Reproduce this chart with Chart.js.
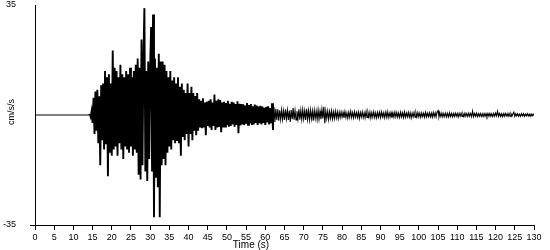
<!DOCTYPE html>
<html><head><meta charset="utf-8">
<script src="https://cdn.jsdelivr.net/npm/chart.js@4/dist/chart.umd.min.js"></script>
<style>html,body{margin:0;padding:0;background:#fff}canvas{display:block}</style>
</head><body>
<canvas id="c" width="550" height="250"></canvas>
<script>
// quiet pre-event record
const flatTimes = [0, 14.0];
const flatValues = [0, 0];
// acceleration record, sampled every 0.25 s starting at 14.25 s (cm/s/s)
const recordStart = 14.25;
const sampleStep = 0.25;
const accel = [
  0.3, -0.6, 1.2, -2.5, 5.5, -6, 7.5, -5, 8, -9, 6, -16, 9.5, -8, 10, -11, 14, -9, 12, -19.5,
  13, -12, 10, -13, 20.5, -11, 15, -10, 14, -13, 12, -9, 16, -11, 13, -14, 12, -10, 14, -11,
  13, -12, 15, -10, 12, -13, 14, -11, 16, -12, 18, -19, 15, -20.5, 24, -16, 18, 34, -18, 14,
  -21, 17, -14, 15, 28, -18, 32, -32.5, 18, -20, 15, -23, 19.5, -32.5, 17, -16, 17, -14, 16, -16,
  14, -12, 12, -10, 14, -11, 11, -8, 12, -9, 10, -8, 12, -9, 9, -13, 10, -7, 8, -8,
  7, -6, 10, -10, 7, -6, 9, -8, 7, -5, 6, -6.4, 7, -5, 5, -4, 4.5, -4.2, 5.3, -4,
  4, -6.4, 4.2, -3.5, 4.5, -4, 5, -4.8, 4, -3.5, 6.5, -4.8, 4.5, -4, 5, -3.8, 4.8, -5.5, 4, -4,
  4.2, -3.7, 3.8, -3.2, 4.5, -3.7, 3.6, -3.5, 4.2, -3, 4, -3.7, 3.5, -3.2, 4.4, -5.8, 3.6, -3.3, 3.5, -3,
  3.4, -3.2, 3, -2.8, 3.8, -3.1, 3.2, -2.6, 3.5, -3.2, 2.8, -3, 3.3, -2.5, 3, -3.2, 2.7, -2.6, 2.9, -3,
  2.7, -2.5, 2.3, -3.2, 2.6, -2.4, 2.8, -3, 2.2, -2.6, 3.7, -4.8, 2.5, -2.2, 2, -1.6, 1.8, -1.8, 1.5, -1.4,
  1.6, -1.4, 1.3, -1.6, 1.8, -1.2, 1.5, -1.6, 1.4, -2.2, 1.6, -1.3, 2.2, -1.5, 1.4, -1.6, 1.2, -1.3, 1.8, -1.5,
  1.5, -1.4, 1.7, -1.2, 1.3, -1.6, 2, -1.3, 1.4, -1.5, 1.6, -1.2, 1.3, -1.8, 1.5, -1.1, 1.2, -1.4, 1.6, -1.3,
  1.2, -1.3, 1.8, -1.1, 2.6, -2.6, 1.3, -1.1, 1.2, -1.4, 1.1, -1, 1.3, -1.2, 1, -1.1, 1.2, -0.9, 1, -1.1,
  0.9, -0.8, 1, -0.7, 0.8, -0.9, 1.1, -0.8, 0.7, -1, 0.9, -0.7, 1.2, -0.8, 0.8, -0.9, 1, -0.7, 0.8, -0.8,
  0.9, -1.1, 0.8, -0.7, 1, -0.8, 0.7, -0.9, 1.1, -0.8, 0.8, -0.7, 0.9, -1, 0.8, -0.7, 1, -0.8, 0.7, -0.9,
  0.8, -0.7, 0.9, -0.8, 1, -0.6, 0.7, -0.9, 0.8, -0.7, 1.1, -0.8, 0.7, -0.6, 0.8, -0.9, 0.7, -0.7, 0.9, -0.6,
  0.8, -0.7, 0.6, -0.8, 0.9, -0.6, 0.7, -0.8, 1, -0.7, 0.6, -0.6, 0.8, -0.7, 0.7, -0.9, 0.6, -0.6, 0.8, -0.7,
  0.7, -0.6, 0.8, -0.6, 0.6, -0.7, 0.7, -0.5, 0.6, -0.7, 0.8, -0.6, 0.6, -0.5, 0.7, -0.6, 0.6, -0.7, 0.8, -0.5,
  0.7, -0.6, 1, 1.4, -0.6, 0.6, -0.5, 0.6, -0.6, 0.5, -0.5, 0.6, -0.6, 0.5, -0.6, 0.7, -0.5, 0.5, -0.6, 0.5,
  -0.5, 0.6, -0.4, 0.5, -0.6, 0.5, -0.4, 0.6, -0.5, 0.4, -0.5, 0.6, -0.4, 0.5, -0.5, 0.6, -0.4, 0.5, -0.5, 1.2,
  -0.5, 0.5, -0.4, 0.6, -0.5, 0.4, -0.4, 0.5, -0.5, 0.4, -0.5, 0.5, -0.4, 0.4, -0.5, 0.5, -0.4, 0.5, -0.4, 0.4,
  -0.5, 0.5, -0.4, 0.6, -0.3, 1.2, -0.4, 0.5, -0.4, 0.4, -0.5, 0.4, -0.4, 0.5, -0.3, 0.4, -0.4, 0.5, -0.4, 0.4,
  -0.4, 0.4, 0.9, -0.4, 0.4, -0.3, 0.4, -0.4, 0.3, -0.4, 0.4, -0.3, 0.4, -0.4, 0.3, -0.3, 0.4, -0.3, 0.3, -0.4,
  0.3, -0.3, 0.3, -0.2
];
const xMin = 0, xMax = 130, xStep = 5;
const yTickValues = [-35, 35];
const xTitle = 'Time (s)';
const yTitle = 'cm/s/s';
const strongMotionEnd = 62; // s, boundary between heavy and light trace styling

const points = flatTimes.map((t, i) => ({x: t, y: flatValues[i]}))
  .concat(accel.map((v, i) => ({x: recordStart + i * sampleStep, y: v})));
const strongPts = points.filter(p => p.x >= recordStart && p.x <= strongMotionEnd);
const prePts = points.filter(p => p.x < recordStart).concat([strongPts[0]]);
const tailPts = points.filter(p => p.x >= strongMotionEnd);

const FONT = '"Liberation Sans", Arial, sans-serif';

const titlesPlugin = {
  id: 'titles',
  afterDraw(chart) {
    const ctx = chart.ctx;
    ctx.save();
    ctx.fillStyle = '#000';
    ctx.font = '10px ' + FONT;
    ctx.textAlign = 'center';
    ctx.textBaseline = 'middle';
    ctx.fillText(xTitle, 251, 245);
    ctx.translate(11.5, 112);
    ctx.rotate(-Math.PI / 2);
    ctx.font = '9px ' + FONT;
    ctx.fillText(yTitle, 0, 0);
    ctx.restore();
  }
};

const lineStyle = (w) => ({borderColor: '#000', borderWidth: w, pointRadius: 0, tension: 0, fill: false});

new Chart(document.getElementById('c'), {
  type: 'line',
  data: {
    datasets: [
      Object.assign({data: prePts}, lineStyle(1.2)),
      Object.assign({data: strongPts}, lineStyle(1.9)),
      Object.assign({data: tailPts}, lineStyle(1.1))
    ]
  },
  options: {
    responsive: false,
    animation: false,
    events: [],
    layout: {padding: {top: 5, right: 16, left: 0, bottom: 0}},
    plugins: {legend: {display: false}, tooltip: {enabled: false}},
    scales: {
      x: {
        type: 'linear',
        min: xMin, max: xMax,
        afterFit(s) { s.height = 25; },
        grid: {drawOnChartArea: false, drawTicks: true, tickLength: 5, color: '#000'},
        border: {display: true, color: '#000', width: 1},
        ticks: {stepSize: xStep, autoSkip: false, maxRotation: 0, minRotation: 0, padding: 2,
                color: '#000', font: {family: FONT, size: 9}}
      },
      y: {
        type: 'linear',
        min: -35, max: 35,
        afterFit(s) { s.width = 35; s.paddingTop = 0; s.paddingBottom = 0; },
        afterBuildTicks(s) { s.ticks = yTickValues.map(v => ({value: v})); },
        grid: {drawOnChartArea: false, drawTicks: true, tickLength: 5,
               color: (c) => (c.tick && c.tick.value === -35) ? '#000' : 'rgba(0,0,0,0)'},
        border: {display: true, color: '#000', width: 1},
        ticks: {padding: 14, color: '#000', font: {family: FONT, size: 9}}
      }
    }
  },
  plugins: [titlesPlugin]
});
</script>
</body></html>
